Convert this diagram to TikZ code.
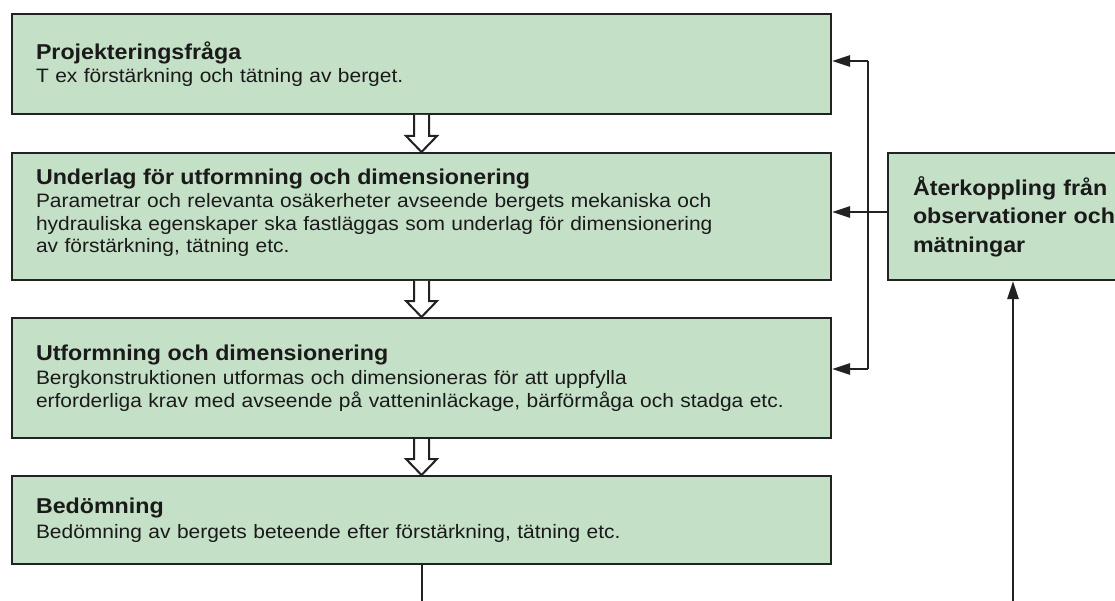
\documentclass[tikz,border=0pt]{standalone}
\usepackage{fontspec}
\setmainfont{Liberation Sans}[FakeStretch=1.08]
\usetikzlibrary{arrows.meta,calc}

\definecolor{boxfill}{RGB}{196,224,199}
\definecolor{inkline}{RGB}{34,34,34}
\definecolor{inktext}{RGB}{26,26,26}

\newcommand{\headfont}{\fontsize{21.5}{28.5}\selectfont\bfseries}
\newcommand{\bodyfont}{\fontsize{19.4}{22.5}\selectfont}

% hollow block arrow between two stacked boxes
\newcommand{\hollowdown}[2]{%
  \path let \p1=(#1.south), \p2=(#2.north) in
    [draw=inkline, fill=white, line width=2pt, line join=miter]
    (\x1-7.5pt,\y1) -- (\x1-7.5pt,\y2+16pt) -- (\x1-15.5pt,\y2+16pt)
    -- (\x1,\y2) -- (\x1+15.5pt,\y2+16pt) -- (\x1+7.5pt,\y2+16pt)
    -- (\x1+7.5pt,\y1);%
}

\tikzset{
  stepbox/.style={draw=inkline, line width=2pt, fill=boxfill,
    rectangle, anchor=north west, inner xsep=0pt, inner ysep=0pt,
    minimum width=819pt, text width=771pt, align=left,
    text=inktext, font=\bodyfont},
  fbbox/.style={draw=inkline, line width=2pt, fill=boxfill,
    rectangle, anchor=north west, inner xsep=25pt, inner ysep=0pt,
    minimum height=127pt, text width=230pt, align=left,
    text=inktext, font=\headfont},
  link/.style={draw=inkline, line width=2.6pt},
  linkarrow/.style={link, -{Triangle[length=18pt,width=11pt]}},
}

\begin{document}
\begin{tikzpicture}[x=1pt,y=-1pt]
\useasboundingbox (0,0) rectangle (1115,601);
\clip (0,0) rectangle (1115,601);

% main chain of boxes
\node[stepbox, minimum height=100pt] (q) at (11,13)
  {{\headfont Projekteringsfråga}\\[1pt]
   T ex förstärkning och tätning av berget.};

\node[stepbox, minimum height=127pt, text height=8pt] (u) at (11,152)
  {{\headfont Underlag för utformning och dimensionering}\\[1pt]
   Parametrar och relevanta osäkerheter avseende bergets mekaniska och\\
   hydrauliska egenskaper ska fastläggas som underlag för dimensionering\\
   av förstärkning, tätning etc.};

\node[stepbox, minimum height=120pt] (d) at (11,317)
  {{\headfont Utformning och dimensionering}\\[2pt]
   Bergkonstruktionen utformas och dimensioneras för att uppfylla\\
   erforderliga krav med avseende på vatteninläckage, bärförmåga och stadga etc.};

\node[stepbox, minimum height=88pt] (b) at (11,475)
  {{\headfont Bedömning}\\[2pt]
   Bedömning av bergets beteende efter förstärkning, tätning etc.};

% feedback box
\node[fbbox] (f) at (887,152)
  {Återkoppling från\\observationer och\\mätningar};

% block arrows down the chain
\hollowdown{q}{u}
\hollowdown{u}{d}
\hollowdown{d}{b}

% feedback bus
\coordinate (j1) at (868,61);
\coordinate (j2) at (868,212);
\coordinate (j3) at (868,369);
\draw[link] (j1) -- (j3);
\draw[linkarrow] (j1) -- (q.east |- j1);
\draw[linkarrow] (f.west |- j2) -- (u.east |- j2);
\draw[linkarrow] (j3) -- (d.east |- j3);

% lines continuing below
\coordinate (bout) at (422,615);
\coordinate (fin) at (1013,615);
\draw[link] (b.south -| bout) -- (bout);
\draw[linkarrow] (fin) -- (f.south -| fin);
\end{tikzpicture}
\end{document}
